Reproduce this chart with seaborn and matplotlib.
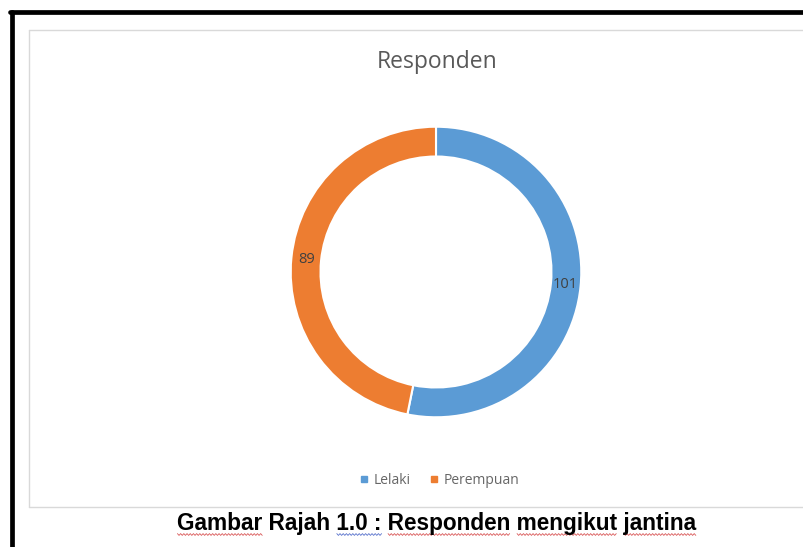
import matplotlib
matplotlib.use("Agg")
import matplotlib.pyplot as plt
import seaborn as sns
import numpy as np
from matplotlib.lines import Line2D

categories = ["Lelaki", "Perempuan"]
values = [101, 89]
chart_title = "Responden"
caption = "Gambar Rajah 1.0 : Responden mengikut jantina"

sns.set_theme(style="white")
plt.rcParams['font.family'] = ['Open Sans', 'DejaVu Sans']
colors = ["#5B9BD5", "#ED7D31"]

W, H = 804, 547
fig = plt.figure(figsize=(W / 100, H / 100), dpi=100)
fig.patch.set_facecolor("white")

def fx(x):
    return x / W

def fy(y):
    return 1 - y / H

# outer black frame (left + top visible)
fig.add_artist(Line2D([fx(12), fx(12)], [fy(12), fy(H + 5)], color="black", lw=3.4))
fig.add_artist(Line2D([fx(10), fx(W + 5)], [fy(12), fy(12)], color="black", lw=3.4))
# chart area gray box
fig.add_artist(Line2D([fx(29.5), fx(29.5)], [fy(30), fy(507)], color="#d9d9d9", lw=1.0))
fig.add_artist(Line2D([fx(29.5), fx(W + 5)], [fy(30), fy(30)], color="#d9d9d9", lw=1.0))
fig.add_artist(Line2D([fx(29.5), fx(W + 5)], [fy(507), fy(507)], color="#d9d9d9", lw=1.0))

cx, cy, r = 436, 272, 146
ax = fig.add_axes([fx(cx - r), fy(cy + r), 2 * r / W, 2 * r / H])
total = sum(values)
wedges, texts, autotexts = ax.pie(
    values, colors=colors, startangle=90, counterclock=False,
    wedgeprops=dict(width=0.205, edgecolor="white", linewidth=1.5),
    autopct=lambda p: f"{round(p * total / 100)}", pctdistance=0.897,
    textprops=dict(fontsize=10.5, color="#404040"))
ax.set_xlim(-1.005, 1.005)
ax.set_ylim(-1.005, 1.005)
ax.set_aspect("equal")
ax.axis("off")

fig.text(fx(437), fy(62), chart_title, ha="center", va="center",
         fontsize=16.5, color="#595959")

handles = [Line2D([], [], marker="s", linestyle="none", markersize=5,
                  markerfacecolor=c, markeredgecolor=c) for c in colors]
fig.legend(handles, categories, loc="center", bbox_to_anchor=(fx(439), fy(480)),
           ncol=2, frameon=False, fontsize=10, labelcolor="#666666",
           handletextpad=0.3, columnspacing=1.3, handlelength=0.8)

cap_props = dict(fontsize=16.3, fontweight="bold",
                 family=["Liberation Sans", "DejaVu Sans"], color="black")
cap = fig.text(fx(437), fy(530), caption, ha="center", va="baseline", **cap_props)

# spell-check wavy underlines under some words
fig.canvas.draw()
renderer = fig.canvas.get_renderer()
cb = cap.get_window_extent(renderer)

def prefix_width(s):
    if not s:
        return 0.0
    t = fig.text(0, 0, s, **cap_props)
    w = t.get_window_extent(renderer).width
    t.remove()
    return w

marks = [("Gambar", "#d03030"), ("1.0 :", "#3050c0"), ("Responden", "#d03030"),
         ("mengikut", "#d03030"), ("jantina", "#d03030")]
ypix = 534.5
for word, col in marks:
    i = caption.index(word)
    x0 = cb.x0 + prefix_width(caption[:i])
    x1 = cb.x0 + prefix_width(caption[:i + len(word)])
    xs = np.arange(x0, x1 + 0.1, 1.6)
    ys = np.where(np.arange(len(xs)) % 2 == 0, ypix - 0.9, ypix + 0.9)
    fig.add_artist(Line2D(xs / W, 1 - ys / H, color=col, lw=0.6, alpha=0.8))

fig.savefig("out.png", dpi=100)
